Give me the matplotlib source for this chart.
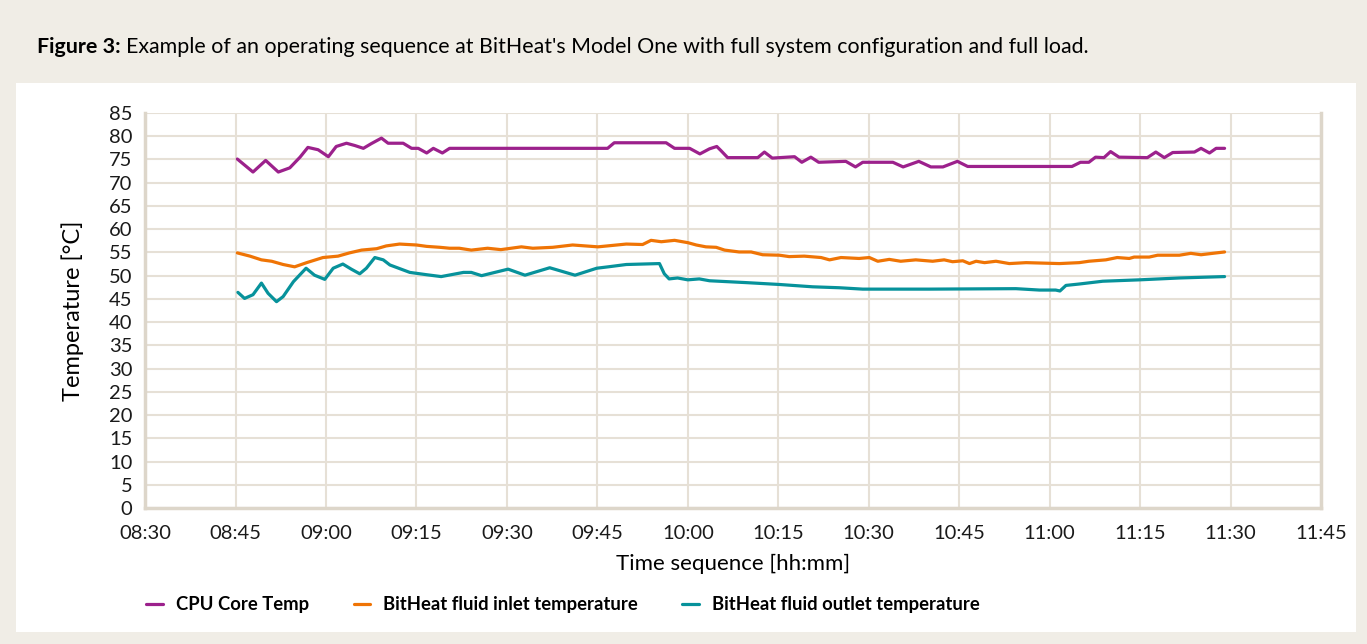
"""Operating sequence of the BitHeat Model One (figure 3)."""

import matplotlib

matplotlib.use("Agg")
import matplotlib.pyplot as plt
from matplotlib.patches import Rectangle

# minutes after 08:45, temperature in degC
cpu_t = [0.3, 2.9, 5.0, 7.1, 9.0, 10.7, 12.0, 13.7, 15.4, 16.7, 18.4, 19.8, 21.2, 22.5,
         24.2, 25.3, 27.8, 29.2, 30.3, 31.7, 32.8, 34.3, 35.5, 61.7, 62.8, 71.4, 72.8,
         75.3, 77.0, 78.6, 79.8, 80.5, 81.6, 86.6, 87.7, 89.0, 92.7, 93.9, 95.4, 96.7,
         101.2, 102.8, 104.0, 109.0, 110.7, 113.3, 115.3, 117.3, 119.7, 121.4, 138.7,
         140.1, 141.5, 142.6, 144.0, 145.1, 146.5, 151.2, 152.6, 154.0, 155.4, 159.0,
         160.1, 161.5, 162.6, 164.0]
cpu_v = [75.1, 72.3, 74.8, 72.3, 73.2, 75.5, 77.6, 77.1, 75.6, 77.8, 78.5, 78.0, 77.4, 78.4,
         79.6, 78.5, 78.5, 77.4, 77.4, 76.4, 77.4, 76.4, 77.4, 77.4, 78.6, 78.6, 77.4,
         77.4, 76.2, 77.3, 77.8, 76.9, 75.4, 75.4, 76.6, 75.3, 75.6, 74.4, 75.5, 74.4,
         74.6, 73.4, 74.4, 74.4, 73.4, 74.6, 73.4, 73.4, 74.6, 73.5, 73.5,
         74.4, 74.4, 75.5, 75.4, 76.7, 75.5, 75.4, 76.6, 75.4, 76.5, 76.6,
         77.4, 76.4, 77.4, 77.4]

inlet_t = [0.3, 2.4, 4.3, 6.0, 7.9, 9.8, 11.8, 14.5, 17.0, 18.9, 20.9, 23.4, 25.0, 27.2,
           30.0, 31.7, 33.9, 35.5, 37.1, 39.1, 41.8, 44.0, 47.4, 49.3, 52.6, 55.9, 60.1,
           64.8, 67.5, 68.9, 70.6, 72.8, 75.0, 76.4, 78.0, 79.7, 81.1, 83.5, 85.5, 87.4,
           90.2, 91.8, 94.3, 97.1, 98.5, 100.4, 103.4, 105.1, 106.5, 108.4, 110.3, 112.8,
           115.6, 117.5, 118.9, 120.6, 121.7, 122.8, 124.2, 126.1, 128.3, 131.1, 136.6,
           139.9, 141.5, 144.3, 146.2, 148.2, 149.0, 151.5, 152.9, 156.5, 158.4, 160.1,
           162.0, 164.0]
inlet_v = [54.9, 54.2, 53.4, 53.1, 52.4, 51.9, 52.8, 53.9, 54.2, 54.9, 55.5, 55.8, 56.4, 56.8,
           56.6, 56.3, 56.1, 55.9, 55.9, 55.5, 55.9, 55.6, 56.2, 55.9, 56.1, 56.6, 56.2,
           56.8, 56.7, 57.6, 57.3, 57.6, 57.1, 56.6, 56.2, 56.1, 55.5, 55.1, 55.1, 54.5,
           54.4, 54.1, 54.2, 53.9, 53.4, 53.9, 53.7, 53.9, 53.1, 53.5, 53.1, 53.4,
           53.1, 53.4, 53.0, 53.2, 52.6, 53.1, 52.8, 53.1, 52.6, 52.8, 52.6,
           52.8, 53.1, 53.4, 53.9, 53.7, 54.0, 54.0, 54.4, 54.4, 54.8, 54.5,
           54.8, 55.1]

outlet_t = [0.4, 1.5, 2.9, 4.3, 5.4, 6.8, 7.9, 9.6, 11.7, 13.1, 14.8, 16.2, 17.8, 19.2,
            20.6, 21.7, 23.1, 24.5, 25.6, 28.9, 31.7, 34.1, 37.8, 39.1, 40.8, 45.2, 48.0,
            52.1, 56.3, 59.9, 61.8, 64.8, 70.3, 71.1, 71.9, 73.3, 75.0, 76.9, 78.6, 84.7,
            90.2, 95.7, 100.1, 104.0, 115.0, 129.4, 133.3, 136.0, 136.7, 137.7, 139.9,
            143.8, 149.9, 156.5, 164.0]
outlet_v = [46.4, 45.1, 45.9, 48.4, 46.2, 44.4, 45.5, 48.7, 51.6, 50.1, 49.2, 51.6, 52.5, 51.4,
            50.4, 51.6, 53.9, 53.4, 52.3, 50.7, 50.2, 49.8, 50.7, 50.7, 50.0, 51.4, 50.1,
            51.7, 50.1, 51.6, 51.9, 52.4, 52.6, 50.4, 49.3, 49.5, 49.1, 49.3, 48.9, 48.5,
            48.1, 47.6, 47.4, 47.1, 47.1, 47.2, 46.9, 46.9, 46.7, 47.9, 48.2,
            48.8, 49.1, 49.5, 49.8]

series_labels = ["CPU Core Temp", "BitHeat fluid inlet temperature",
                 "BitHeat fluid outlet temperature"]
series_colors = ["#9c218c", "#ef7405", "#07929b"]

time_ticks = [-15, 0, 15, 30, 45, 60, 75, 90, 105, 120, 135, 150, 165, 180]
time_labels = ["08:30", "08:45", "09:00", "09:15", "09:30", "09:45", "10:00",
               "10:15", "10:30", "10:45", "11:00", "11:15", "11:30", "11:45"]

FONT = "Lato"
GRID = "#e6e0d6"

fig = plt.figure(figsize=(13.67, 6.44), dpi=100)
fig.patch.set_facecolor("#f0ede6")
fig.patches.append(Rectangle((0.0117, 0.0186), 0.980, 0.8525, transform=fig.transFigure,
                             facecolor="white", edgecolor="none", zorder=-10))

ax = fig.add_axes([0.1061, 0.2112, 0.8603, 0.6133])
ax.set_facecolor("white")
for t, v, lab, col in zip([cpu_t, inlet_t, outlet_t], [cpu_v, inlet_v, outlet_v],
                          series_labels, series_colors):
    ax.plot(t, v, color=col, lw=2.3, label=lab, solid_joinstyle="round",
            solid_capstyle="round", zorder=3)

ax.set_xlim(-15, 180)
ax.set_ylim(0, 85)
ax.set_xticks(time_ticks)
ax.set_xticklabels(time_labels)
ax.set_yticks(range(0, 90, 5))
ax.grid(True, color=GRID, lw=1.5, zorder=0)
ax.set_axisbelow(True)
ax.tick_params(length=0, labelsize=14.5, colors="#1a1a1a", pad=9)
for lbl in ax.get_xticklabels() + ax.get_yticklabels():
    lbl.set_family(FONT)
ax.tick_params(axis="x", pad=12)
ax.spines["top"].set_visible(False)
for side in ["left", "right", "bottom"]:
    ax.spines[side].set_color("#ddd6ca")
    ax.spines[side].set_linewidth(2.5)

ax.set_ylabel("Temperature [°C]", fontsize=17, family=FONT, labelpad=18)
ax.set_xlabel("Time sequence [hh:mm]", fontsize=16, family=FONT, labelpad=9)

fig.legend(loc="center left", bbox_to_anchor=(0.095, 0.061), ncol=3, frameon=False,
           handlelength=0.9, handletextpad=0.7, columnspacing=2.4,
           prop={"family": FONT, "weight": "bold", "size": 13.3})

renderer = fig.canvas.get_renderer()
head = fig.text(0.027, 0.927, "Figure 3:", fontsize=15.4, family=FONT, weight="bold",
                va="center")
bb = head.get_window_extent(renderer=renderer)
fig.text((bb.x1 + 5) / fig.bbox.width, 0.927,
         "Example of an operating sequence at BitHeat's Model One with full system "
         "configuration and full load.", fontsize=15.4, family=FONT, va="center")

fig.savefig("out.png", dpi=100, facecolor=fig.get_facecolor())
